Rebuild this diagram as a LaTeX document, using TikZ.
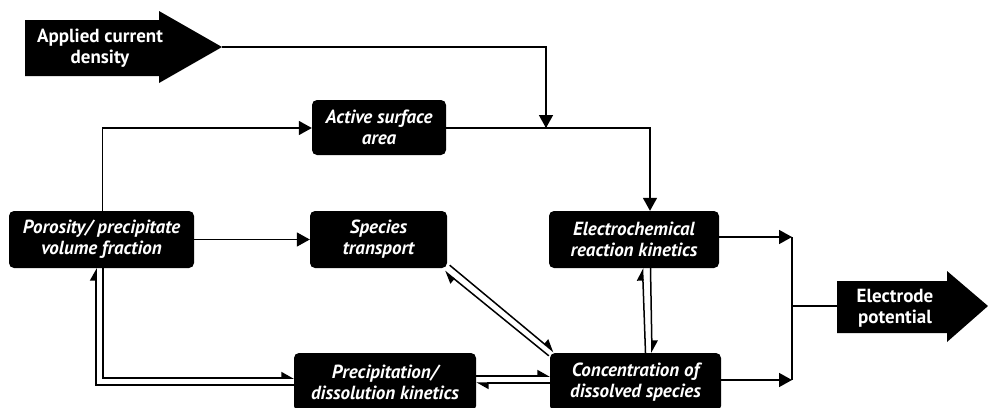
\documentclass[tikz,border=0pt]{standalone}
\usepackage{fontspec}
\setmainfont{PT Sans}
\usetikzlibrary{arrows.meta,calc}
\begin{document}
\begin{tikzpicture}[x=1pt,y=-1pt,
  box/.style={fill=black, rounded corners=5pt, text=white, align=center, inner sep=0pt,
    font=\bfseries\itshape\fontsize{19}{21}\selectfont},
  bigtxt/.style={text=white, align=center, inner sep=0pt,
    font=\bfseries\fontsize{19}{21}\selectfont},
  conn/.style={line width=1.6pt, -{Triangle[length=13pt,width=14pt]}},
  plain/.style={line width=1.6pt},
  harp/.style={line width=1.5pt, -{Triangle[harpoon,length=11pt,width=12pt]}},
]
\useasboundingbox (0,0) rectangle (988,407);

% big arrows
\fill (25,20) -- (159,20) -- (159,11) -- (222,47) -- (159,83) -- (159,76) -- (25,76) -- cycle;
\node[bigtxt] (applied) at (100,48) {Applied current\\density};
\coordinate (atip) at (222,47);
\fill (837,281) -- (947,281) -- (947,271) -- (988,306) -- (947,342) -- (947,333) -- (837,333) -- cycle;
\node[bigtxt] (elec) at (895,308) {Electrode\\potential};
\coordinate (etail) at (837,306);

% boxes
\node[box, minimum width=134pt, minimum height=55pt] (act) at (379,127.5) {Active surface\\area};
\node[box, minimum width=185pt, minimum height=57pt] (por) at (101.5,239.5) {Porosity/ precipitate\\volume fraction};
\node[box, minimum width=137pt, minimum height=57pt] (sp) at (378.5,239.5) {Species\\transport};
\node[box, minimum width=182pt, minimum height=58pt] (pd) at (385,382) {Precipitation/\\dissolution kinetics};
\node[box, minimum width=170pt, minimum height=57pt] (ec) at (634,239.5) {Electrochemical\\reaction kinetics};
\node[box, minimum width=171pt, minimum height=58pt] (cc) at (635.5,382) {Concentration of\\dissolved species};

% junctions
\coordinate (jn) at (546,128);
\coordinate (ctop) at (792,237);
\coordinate (cbot) at (792,380);
\coordinate (cmid) at (792,306);

% single connectors
\draw[plain] (atip) -| (jn);
\draw[conn] (atip -| jn) -- (jn);
\draw[conn] (act.east |- jn) -| ([xshift=16pt]ec.north);
\draw[conn] ([xshift=1pt]por.north) |- (act.west |- jn);
\draw[conn] (por.east) -- (sp.west);
\draw[conn] (ec.east |- ctop) -- (ctop);
\draw[conn] (cc.east |- cbot) -- (cbot);
\draw[plain] (ctop) -- (cbot);
\draw[plain] (cmid) -- (etail);

% harpoons: porosity <-> precipitation
\draw[harp] ([xshift=1.5pt]por.south) |- (pd.west |- 0,378);
\draw[harp] (pd.west |- 0,385) -| ([xshift=-5.5pt]por.south);
% precipitation <-> concentration
\draw[harp] (pd.east |- 0,376) -- (cc.west |- 0,376);
\draw[harp] (cc.west |- 0,383) -- (pd.east |- 0,383);
% species <-> concentration
\draw[harp] ([shift={(2.5,-3)}]sp.south east) -- ([shift={(4,-1)}]cc.north west);
\draw[harp] ([shift={(-1,3)}]cc.north west) -- ([shift={(-2.5,3)}]sp.south east);
% electrochemical <-> concentration
\draw[harp] ([xshift=10pt]cc.north) -- ([xshift=8.5pt]ec.south);
\draw[harp] ([xshift=16.5pt]ec.south) -- ([xshift=16.5pt]cc.north);
\end{tikzpicture}
\end{document}
